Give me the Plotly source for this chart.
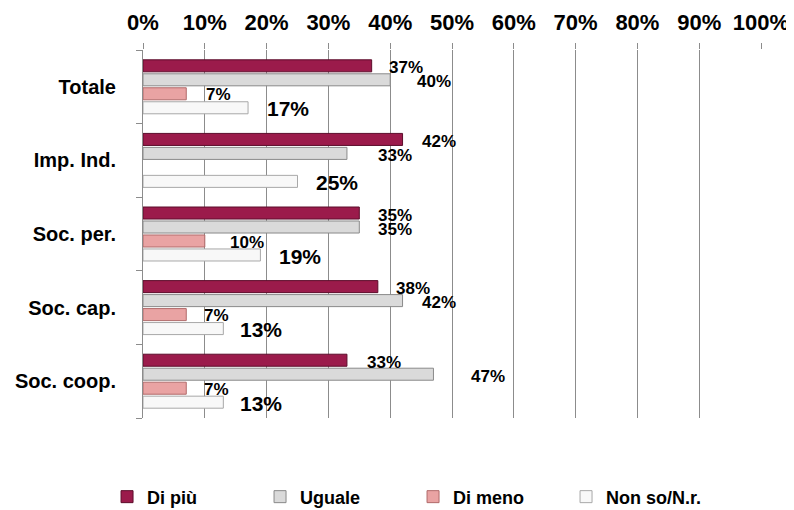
import plotly.graph_objects as go

categories = ["Totale", "Imp. Ind.", "Soc. per.", "Soc. cap.", "Soc. coop."]
series_names = ["Di più", "Uguale", "Di meno", "Non so/N.r."]
di_piu = [37, 42, 35, 38, 33]
uguale = [40, 33, 35, 42, 47]
di_meno = [7, None, 10, 7, 7]
non_so = [17, 25, 19, 13, 13]
x_ticks = [0, 10, 20, 30, 40, 50, 60, 70, 80, 90, 100]
x_tick_labels = [f"{v}%" for v in x_ticks]

values = [di_piu, uguale, di_meno, non_so]
fills = ["#9B1B4B", "#DADADA", "#E9A3A3", "#F8F8F8"]
lines = ["#5C0D2B", "#8A8A8A", "#B06A6A", "#A8A8A8"]
label_sizes = [17, 17, 17, 21]
label_yshift = [19, 5, -8, -22]
label_xshift = [
    [15, 17, 17, 16, 18],
    [25, 29, 17, 17, 36],
    [18, 16, 23, 16, 16],
    [17, 16, 17, 15, 15],
]

FONT = "Arial, Liberation Sans, sans-serif"

fig = go.Figure()
for i, name in enumerate(series_names):
    fig.add_trace(go.Bar(
        y=categories, x=values[i], name=name, orientation="h",
        marker=dict(color=fills[i], line=dict(color=lines[i], width=1)),
    ))

annotations = []
for i in range(4):
    for j, cat in enumerate(categories):
        v = values[i][j]
        if v is None:
            continue
        annotations.append(dict(
            x=v, y=cat, xref="x", yref="y", text=f"{v}%",
            showarrow=False, xanchor="left", yanchor="middle",
            xshift=label_xshift[i][j], yshift=label_yshift[i],
            font=dict(family=FONT, size=label_sizes[i], color="#000000", weight="bold"),
        ))

fig.update_layout(
    width=786, height=502,
    margin=dict(l=135, r=33, t=42, b=92),
    paper_bgcolor="white", plot_bgcolor="white",
    barmode="group", bargap=0.24, bargroupgap=0.14,
    font=dict(family=FONT, color="#000000"),
    showlegend=True,
    legend=dict(
        orientation="h", xref="container", x=0.126, xanchor="left",
        yref="container", y=0.026, yanchor="middle",
        font=dict(family=FONT, size=18, color="#000000", weight="bold"),
        entrywidth=108, entrywidthmode="pixels",
        traceorder="normal",
    ),
    annotations=annotations,
)
fig.update_xaxes(
    side="top", range=[0, 100], tickvals=x_ticks, ticktext=x_tick_labels,
    showgrid=True, gridcolor="#8C8C8C", gridwidth=1, zeroline=False,
    ticks="outside", ticklen=6, tickcolor="#8C8C8C", ticklabelstandoff=4,
    tickfont=dict(family=FONT, size=22, color="#000000", weight="bold"),
    showline=False, automargin=False,
)
fig.update_yaxes(
    autorange="reversed", categoryorder="array", categoryarray=categories,
    tickvals=categories, ticktext=categories,
    ticks="outside", tickson="boundaries", ticklen=6, tickcolor="#8C8C8C",
    showline=True, linecolor="#8C8C8C", linewidth=1, showgrid=False,
    ticklabelstandoff=22, automargin=False,
    tickfont=dict(family=FONT, size=20, color="#000000", weight="bold"),
)

fig.write_html("out.html")
